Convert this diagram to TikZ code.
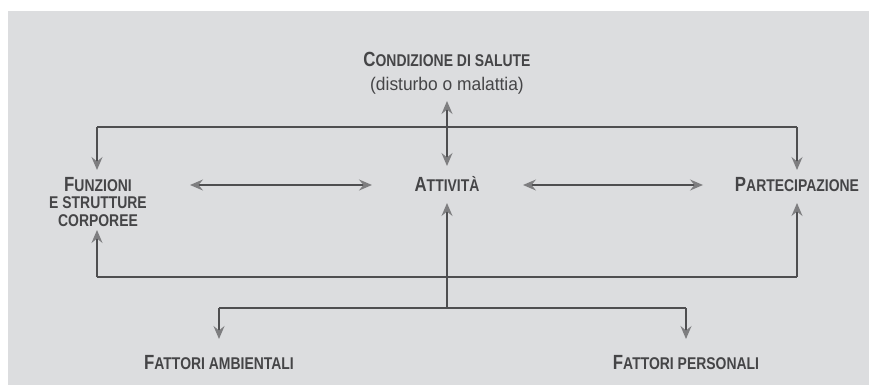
\documentclass[tikz,border=0pt]{standalone}
\usepackage{fontspec}
\newfontfamily\cf[FakeStretch=0.82]{Liberation Sans}
\newfontfamily\cfr[FakeStretch=0.95]{Liberation Sans}
\usetikzlibrary{arrows.meta}
\definecolor{bggray}{HTML}{DCDDDF}
\definecolor{txtgray}{HTML}{454547}
\definecolor{lngray}{HTML}{4E4E50}
\definecolor{tipgray}{HTML}{7E7E80}
\newcommand\bigc[1]{{\fontsize{20.5}{17.5}\selectfont #1}}
\newcommand\smc[1]{{\fontsize{17}{17.5}\selectfont #1}}
\tikzset{
  lbl/.style={inner sep=0pt, anchor=base, text=txtgray, font=\cf\bfseries\fontsize{17}{17.5}\selectfont, align=center},
  sub/.style={inner sep=0pt, anchor=base, text=txtgray, font=\cfr\fontsize{18.3}{19}\selectfont},
  tipstyle/.style={-{Stealth[length=13pt,width=11pt,inset=4.5pt,color=tipgray]}},
  conn/.style={draw=lngray, line width=1.4pt},
  arr/.style={conn, tipstyle},
  both/.style={conn, {Stealth[length=13pt,width=11pt,inset=4.5pt,color=tipgray]}-{Stealth[length=13pt,width=11pt,inset=4.5pt,color=tipgray]}},
}
\begin{document}
\begin{tikzpicture}[x=1pt,y=-1pt]
\useasboundingbox (0,0) rectangle (869,385);
\fill[white] (0,0) rectangle (869,385);
\fill[bggray] (8,11) rectangle (869,385);

% nodes
\node[lbl] (cond) at (447,67) {\bigc{C}\smc{ONDIZIONE DI SALUTE}};
\node[sub] (dis) at (447,91) {(disturbo o malattia)};
\node[lbl] (fun) at (98,226) {\bigc{F}\smc{UNZIONI}\\\smc{E STRUTTURE}\\\smc{CORPOREE}};
\node[lbl] (att) at (447,191) {\bigc{A}\smc{TTIVITÀ}};
\node[lbl] (par) at (797,191) {\bigc{P}\smc{ARTECIPAZIONE}};
\node[lbl] (amb) at (219,369) {\bigc{F}\smc{ATTORI AMBIENTALI}};
\node[lbl] (per) at (686,369) {\bigc{F}\smc{ATTORI PERSONALI}};

% free ends
\coordinate (condTip) at (447,101);
\coordinate (attTop) at (447,166);
\coordinate (funTop) at (97,170);
\coordinate (parTop) at (797,170);
\coordinate (topL) at (97,127);
\coordinate (topR) at (797,127);
\coordinate (funL) at (190,185);
\coordinate (attL) at (372,185);
\coordinate (attR) at (523,185);
\coordinate (parL) at (703,185);
\coordinate (funBot) at (97,230);
\coordinate (attBot) at (447,203);
\coordinate (parBot) at (797,203);
\coordinate (botL) at (97,277);
\coordinate (botR) at (797,277);
\coordinate (brC) at (447,308);
\coordinate (brL) at (219,308);
\coordinate (brR) at (686,308);
\coordinate (ambTop) at (219,339);
\coordinate (perTop) at (686,339);

% connectors
\draw[both] (condTip) -- (attTop);
\draw[conn] (topL) -- (topR);
\draw[arr] (topL) -- (funTop);
\draw[arr] (topR) -- (parTop);
\draw[both] (funL) -- (attL);
\draw[both] (attR) -- (parL);
\draw[arr] (botL) -- (funBot);
\draw[arr] (botR) -- (parBot);
\draw[conn] (botL) -- (botR);
\draw[arr] (brC) -- (attBot);
\draw[conn] (brL) -- (brR);
\draw[arr] (brL) -- (ambTop);
\draw[arr] (brR) -- (perTop);
\end{tikzpicture}
\end{document}
